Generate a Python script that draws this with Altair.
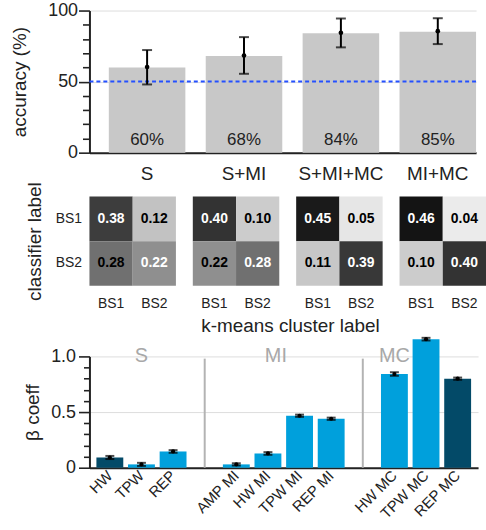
import altair as alt
import pandas as pd

FONT = "Liberation Sans"
AXIS_COLOR = "#222222"

# ---------------- accuracy panel ----------------
models = ["S", "S+MI", "S+MI+MC", "MI+MC"]
accuracy = [60, 68, 84, 85]
acc_point = [60.3, 68.3, 84.4, 85.5]
acc_low = [48.0, 55.5, 74.1, 76.4]
acc_high = [72.2, 81.3, 94.4, 94.6]
acc_labels = ["60%", "68%", "84%", "85%"]
chance_level = [50]
acc_major_ticks = [0, 50, 100]
acc_minor_ticks = [10, 20, 30, 40, 60, 70, 80, 90]

# ---------------- confusion matrices ----------------
cm_classifier = ["BS1", "BS1", "BS2", "BS2"]
cm_kmeans = ["BS1", "BS2", "BS1", "BS2"]
cm_labels = ["BS1", "BS2"]
cm_S = [0.38, 0.12, 0.28, 0.22]
cm_S_MI = [0.40, 0.10, 0.22, 0.28]
cm_S_MI_MC = [0.45, 0.05, 0.11, 0.39]
cm_MI_MC = [0.46, 0.04, 0.10, 0.40]

# ---------------- beta coefficients ----------------
features = ["HW", "TPW", "REP", "AMP MI", "HW MI", "TPW MI", "REP MI",
            "HW MC", "TPW MC", "REP MC"]
beta = [0.092, 0.03, 0.146, 0.03, 0.128, 0.467, 0.44, 0.842, 1.155, 0.80]
beta_err = [0.014, 0.014, 0.012, 0.01, 0.012, 0.01, 0.01, 0.016, 0.012, 0.01]
beta_shade = ["dark", "light", "light", "light", "light", "light", "light",
              "light", "light", "dark"]
x_order = ["HW", "TPW", "REP", " ", "AMP MI", "HW MI", "TPW MI", "REP MI",
           "  ", "HW MC", "TPW MC", "REP MC"]
dividers = [" ", "  "]
divider_top = [0.98, 0.98]
group_names = ["S", "MC"]
group_anchor = ["TPW", "HW MC"]
group_mi = ["MI"]
group_mi_anchor = ["HW MI"]
group_level = 1.0
beta_major_ticks = [0, 0.5, 1.0]
beta_minor_ticks = [0.1, 0.2, 0.3, 0.4, 0.6, 0.7, 0.8, 0.9]


def major_axis(title, values, fmt, label_pad, title_pad):
    return alt.Axis(title=title, values=values, format=fmt, labelOverlap=False,
                    tickSize=11, tickWidth=1.6, tickColor=AXIS_COLOR,
                    domainColor=AXIS_COLOR, domainWidth=2,
                    labelFontSize=18, labelPadding=label_pad,
                    labelColor=AXIS_COLOR, titleFontSize=19,
                    titleFontWeight="normal", titleColor=AXIS_COLOR,
                    titlePadding=title_pad, orient="left")


def minor_axis(values, size):
    return alt.Axis(title=None, values=values, labels=False, domain=False,
                    tickSize=size, tickWidth=1.6, tickColor=AXIS_COLOR,
                    orient="left")


# ======================= top chart =======================
acc_df = pd.DataFrame({"model": models, "acc": accuracy, "point": acc_point,
                       "lo": acc_low, "hi": acc_high, "label": acc_labels,
                       "base": [0] * len(models)})
chance_df = pd.DataFrame({"chance": chance_level})

x_top = alt.X("model:N", sort=models,
              scale=alt.Scale(paddingInner=0.21, paddingOuter=0.1, align=1),
              axis=alt.Axis(title=None, labelAngle=0, ticks=False, labelPadding=12,
                            labelFontSize=19, labelColor=AXIS_COLOR,
                            domainColor=AXIS_COLOR, domainWidth=2))
y_scale_top = alt.Scale(domain=[0, 100], nice=False)

base_top = alt.Chart(acc_df)
bars_top = base_top.mark_bar(color="#c8c8c8").encode(
    x=x_top,
    y=alt.Y("acc:Q", scale=y_scale_top,
            axis=major_axis("accuracy (%)", acc_major_ticks, "d", 1, 18)),
)
chance_rule = alt.Chart(chance_df).mark_rule(
    color="#2450ff", strokeDash=[4, 3], strokeWidth=2
).encode(y=alt.Y("chance:Q", scale=y_scale_top,
                 axis=minor_axis(acc_minor_ticks, 7)))
err_top = base_top.mark_rule(color="black", strokeWidth=2).encode(
    x=x_top, y=alt.Y("lo:Q", scale=y_scale_top, axis=None), y2="hi:Q")
cap_lo_top = base_top.mark_tick(color="black", size=10, thickness=2).encode(
    x=x_top, y=alt.Y("lo:Q", scale=y_scale_top, axis=None))
cap_hi_top = base_top.mark_tick(color="black", size=10, thickness=2).encode(
    x=x_top, y=alt.Y("hi:Q", scale=y_scale_top, axis=None))
pt_top = base_top.mark_circle(color="black", size=22, opacity=1).encode(
    x=x_top, y=alt.Y("point:Q", scale=y_scale_top, axis=None))
txt_top = base_top.mark_text(fontSize=17, baseline="alphabetic", dy=-8,
                             color="#222222").encode(
    x=x_top, y=alt.Y("base:Q", scale=y_scale_top, axis=None), text="label:N")

top = alt.layer(bars_top, chance_rule, err_top, cap_lo_top, cap_hi_top,
                pt_top, txt_top).resolve_axis(y="independent").properties(
    width=389, height=143)

# ======================= heatmaps =======================
def heat(vals, first):
    df = pd.DataFrame({"clf": cm_classifier, "km": cm_kmeans, "v": vals,
                       "txt": [f"{v:.2f}" for v in vals]})
    if first:
        yax = alt.Axis(title="classifier label", ticks=False, domain=False,
                       labelPadding=8, labelFontSize=14, labelColor=AXIS_COLOR,
                       titleFontSize=19, titleFontWeight="normal",
                       titleColor=AXIS_COLOR, titlePadding=11)
        y = alt.Y("clf:N", sort=cm_labels, axis=yax)
    else:
        y = alt.Y("clf:N", sort=cm_labels, axis=None)
    x = alt.X("km:N", sort=cm_labels,
              axis=alt.Axis(title=None, labelAngle=0, ticks=False, domain=False,
                            labelPadding=11, labelFontSize=14,
                            labelColor=AXIS_COLOR))
    base = alt.Chart(df).encode(x=x, y=y)
    rect = base.mark_rect().encode(
        color=alt.Color("v:Q", scale=alt.Scale(domain=[0, 0.5],
                                              range=["#ffffff", "#000000"],
                                              interpolate="rgb"),
                        legend=None))
    text = base.mark_text(fontSize=14, fontWeight="bold").encode(
        text="txt:N",
        color=alt.condition(alt.datum.clf == alt.datum.km, alt.value("white"),
                            alt.value("black")))
    return alt.layer(rect, text).properties(width=87, height=90)

heat_row = alt.hconcat(
    heat(cm_S, True), heat(cm_S_MI, False), heat(cm_S_MI_MC, False),
    heat(cm_MI_MC, False), spacing=17,
    title=alt.Title("k-means cluster label", orient="bottom", anchor="middle",
                    fontSize=19, fontWeight="normal", color=AXIS_COLOR,
                    offset=6, dx=35))

# ======================= beta chart =======================
beta_df = pd.DataFrame({
    "feature": features, "beta": beta,
    "lo": [b - e for b, e in zip(beta, beta_err)],
    "hi": [b + e for b, e in zip(beta, beta_err)],
    "shade": beta_shade})
div_df = pd.DataFrame({"feature": dividers, "top": divider_top,
                       "bottom": [0] * len(dividers)})
grp_df = pd.DataFrame({"feature": group_anchor, "name": group_names,
                       "level": [group_level] * len(group_names)})
grp_mi_df = pd.DataFrame({"feature": group_mi_anchor, "name": group_mi,
                          "level": [group_level] * len(group_mi)})

x_bot = alt.X("feature:N", sort=x_order,
              scale=alt.Scale(domain=x_order, paddingInner=0.15, paddingOuter=0.22),
              axis=alt.Axis(title=None, labelAngle=-45, labelAlign="right",
                            labelBaseline="middle", ticks=False,
                            labelFontSize=15, labelPadding=5,
                            labelColor=AXIS_COLOR, domainColor=AXIS_COLOR,
                            domainWidth=2))
y_scale_bot = alt.Scale(domain=[0, 1.0], nice=False)

bars_bot = alt.Chart(beta_df).mark_bar().encode(
    x=x_bot,
    y=alt.Y("beta:Q", scale=y_scale_bot,
            axis=alt.Axis(title="β coeff", values=beta_major_ticks,
                          labelExpr="datum.value === 0 ? '0' : format(datum.value, '.1f')",
                          labelOverlap=False,
                          tickSize=11, tickWidth=1.6, tickColor=AXIS_COLOR,
                          domainColor=AXIS_COLOR, domainWidth=2,
                          labelFontSize=18, labelPadding=3, labelColor=AXIS_COLOR,
                          titleFontSize=19, titleFontWeight="normal",
                          titleColor=AXIS_COLOR, titlePadding=8, orient="left")),
    color=alt.Color("shade:N", scale=alt.Scale(domain=["dark", "light"],
                                               range=["#034a68", "#00a0dc"]),
                    legend=None),
)
div_rule = alt.Chart(div_df).mark_rule(color="#b3b3b3", strokeWidth=2).encode(
    x=x_bot, y=alt.Y("bottom:Q", scale=y_scale_bot,
                     axis=minor_axis(beta_minor_ticks, 6)), y2="top:Q")
err_bot = alt.Chart(beta_df).mark_rule(color="black", strokeWidth=2).encode(
    x=x_bot, y=alt.Y("lo:Q", scale=y_scale_bot, axis=None), y2="hi:Q")
cap_lo_bot = alt.Chart(beta_df).mark_tick(color="black", size=9, thickness=2).encode(
    x=x_bot, y=alt.Y("lo:Q", scale=y_scale_bot, axis=None))
cap_hi_bot = alt.Chart(beta_df).mark_tick(color="black", size=9, thickness=2).encode(
    x=x_bot, y=alt.Y("hi:Q", scale=y_scale_bot, axis=None))
pt_bot = alt.Chart(beta_df).mark_circle(color="black", size=18, opacity=1).encode(
    x=x_bot, y=alt.Y("beta:Q", scale=y_scale_bot, axis=None))
grp_txt = alt.Chart(grp_df).mark_text(fontSize=20, color="#a8a8a8",
                                      baseline="middle").encode(
    x=x_bot, y=alt.Y("level:Q", scale=y_scale_bot, axis=None), text="name:N")
grp_mi_txt = alt.Chart(grp_mi_df).mark_text(fontSize=20, color="#a8a8a8",
                                            baseline="middle", dx=8).encode(
    x=x_bot, y=alt.Y("level:Q", scale=y_scale_bot, axis=None), text="name:N")

bottom = alt.layer(bars_bot, div_rule, err_bot, cap_lo_bot, cap_hi_bot, pt_bot,
                   grp_txt, grp_mi_txt).resolve_axis(y="independent").properties(
    width=391, height=112)

# ======================= assemble =======================
upper = alt.ConcatChart(concat=[top, heat_row], columns=1, align="none",
                        spacing=-2)
chart = alt.ConcatChart(concat=[upper, bottom], columns=1, align="none",
                        spacing=1).properties(
    padding={"left": 10, "top": 0, "right": 0, "bottom": 0}
).configure(font=FONT).configure_view(stroke=None)

chart.save("out.html", embed_options={"renderer": "svg", "actions": False})
